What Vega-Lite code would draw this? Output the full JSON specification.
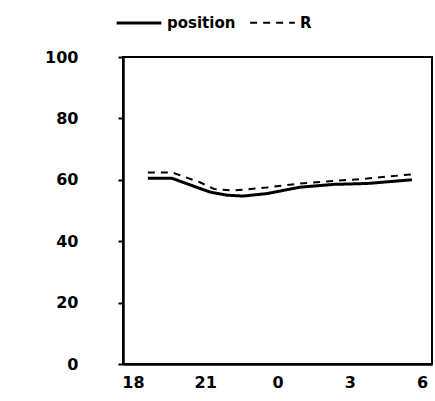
{
  "$schema": "https://vega.github.io/schema/vega-lite/v6.json",
  "autosize": "none",
  "width": 309,
  "height": 307,
  "padding": {"left": 123, "top": 57, "right": 3, "bottom": 37},
  "background": "white",
  "config": {
    "font": "DejaVu Sans",
    "view": {"stroke": "black", "strokeWidth": 2},
    "axis": {"grid": false, "domainColor": "black", "domainWidth": 2.5, "tickColor": "black", "tickWidth": 2, "labelColor": "black", "labelFont": "DejaVu Sans", "labelFontWeight": "bold", "labelFontSize": 16}
  },
  "data": {"values": [
    {"hour": 18.62, "value": 60.5, "series": "position"},
    {"hour": 19.62, "value": 60.5, "series": "position"},
    {"hour": 20.32, "value": 58.5, "series": "position"},
    {"hour": 21.2, "value": 56.0, "series": "position"},
    {"hour": 21.9, "value": 55.0, "series": "position"},
    {"hour": 22.56, "value": 54.7, "series": "position"},
    {"hour": 23.56, "value": 55.5, "series": "position"},
    {"hour": 24.93, "value": 57.6, "series": "position"},
    {"hour": 26.3, "value": 58.5, "series": "position"},
    {"hour": 27.71, "value": 58.8, "series": "position"},
    {"hour": 29.58, "value": 60.0, "series": "position"},
    {"hour": 18.62, "value": 62.4, "series": "R"},
    {"hour": 19.62, "value": 62.4, "series": "R"},
    {"hour": 20.78, "value": 59.2, "series": "R"},
    {"hour": 21.37, "value": 57.0, "series": "R"},
    {"hour": 22.15, "value": 56.5, "series": "R"},
    {"hour": 23.56, "value": 57.5, "series": "R"},
    {"hour": 24.93, "value": 58.8, "series": "R"},
    {"hour": 26.3, "value": 59.6, "series": "R"},
    {"hour": 27.71, "value": 60.4, "series": "R"},
    {"hour": 29.58, "value": 61.8, "series": "R"}
  ]},
  "mark": {"type": "line", "color": "black"},
  "encoding": {
    "x": {"field": "hour", "type": "quantitative", "scale": {"domain": [17.59, 30.41], "nice": false, "zero": false},
      "axis": {"values": [18, 21, 24, 27, 30], "labelExpr": "datum.value % 24", "title": null, "ticks": false, "labelPadding": 10, "labelFlush": false}},
    "y": {"field": "value", "type": "quantitative", "scale": {"domain": [0, 100], "nice": false},
      "axis": {"values": [0, 20, 40, 60, 80, 100], "title": null, "tickSize": 5, "labelPadding": 40}},
    "strokeDash": {"field": "series", "type": "nominal", "scale": {"domain": ["position", "R"], "range": [[1, 0], [7, 6]]},
      "legend": {"orient": "none", "legendX": -8, "legendY": -58, "direction": "horizontal", "title": null, "symbolType": "stroke", "symbolSize": 2000, "symbolStrokeColor": "black", "symbolStrokeWidth": 2, "labelFont": "DejaVu Sans", "labelFontWeight": "bold", "labelFontSize": 15, "labelColor": "black", "columnPadding": 10}},
    "strokeWidth": {"field": "series", "type": "nominal", "scale": {"domain": ["position", "R"], "range": [3, 2]}, "legend": null}
  }
}
